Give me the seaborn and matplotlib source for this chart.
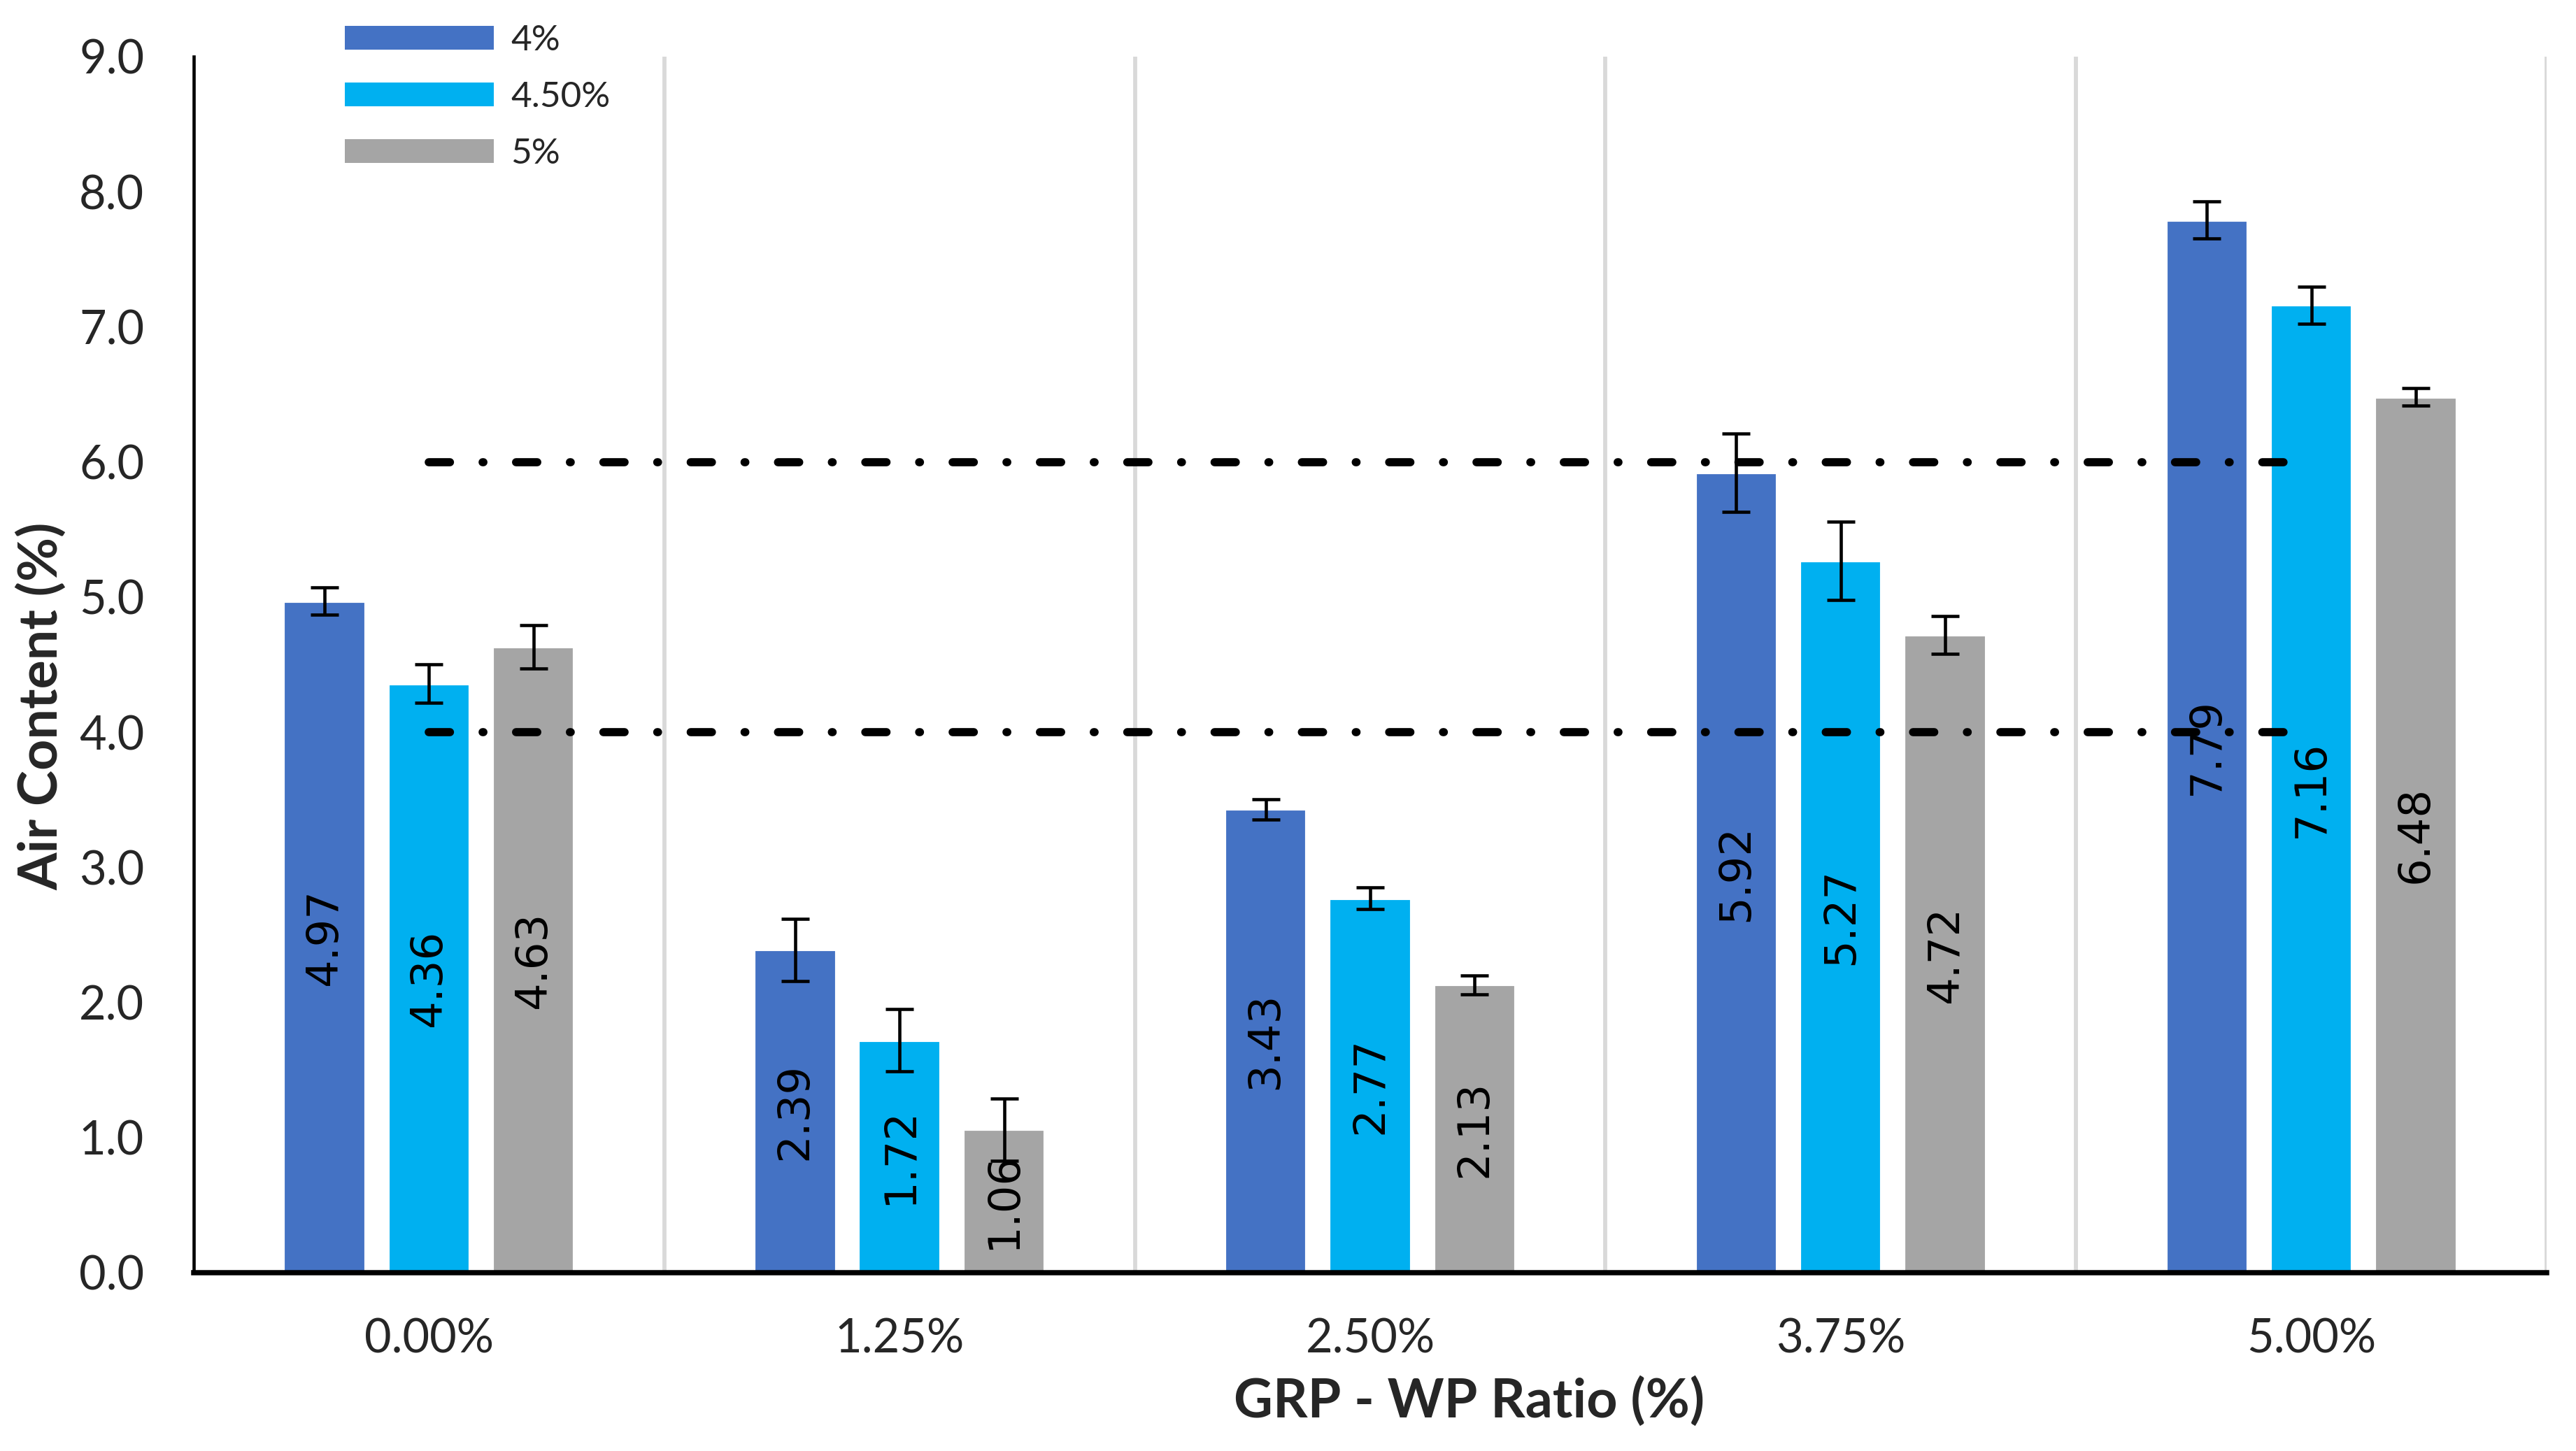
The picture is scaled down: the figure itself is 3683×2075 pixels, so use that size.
import numpy as np
import pandas as pd
import matplotlib
matplotlib.use("Agg")
import matplotlib.pyplot as plt
from matplotlib.patches import Patch
import seaborn as sns

# data
ratios = ["0.00%", "1.25%", "2.50%", "3.75%", "5.00%"]
cement = ["4%", "4.50%", "5%"]
air_4 = [4.97, 2.39, 3.43, 5.92, 7.79]
air_45 = [4.36, 1.72, 2.77, 5.27, 7.16]
air_5 = [4.63, 1.06, 2.13, 4.72, 6.48]
err_4 = [0.10, 0.23, 0.076, 0.29, 0.136]
err_45 = [0.14, 0.23, 0.08, 0.29, 0.137]
err_5 = [0.16, 0.23, 0.07, 0.14, 0.065]
limit_levels = [6.0, 4.0]
colors = ["#4472C4", "#00B0F0", "#A5A5A5"]

series = [air_4, air_45, air_5]
errors = [err_4, err_45, err_5]

rows = []
for c, vals in zip(cement, series):
    for r, v in zip(ratios, vals):
        rows.append([r, c, v])
df = pd.DataFrame(rows, columns=["ratio", "cement", "air"])

sns.set_style("white")
plt.rcParams["font.family"] = ["Lato", "DejaVu Sans"]

fig = plt.figure(figsize=(3683 / 300, 2075 / 300), dpi=300)
ax = fig.add_axes([0.0752, 0.1229, 0.9134, 0.8381])

sns.barplot(data=df, x="ratio", y="air", hue="cement", order=ratios,
            hue_order=cement, palette=colors, width=0.666, gap=0.214,
            errorbar=None, saturation=1, legend=False, ax=ax, zorder=2)

# value labels in the middle of the bars + error bars
for cont, vals, errs in zip(ax.containers, series, errors):
    ax.bar_label(cont, labels=[f"{v:.2f}" for v in vals], label_type="center",
                 rotation=90, fontsize=15, family="DejaVu Sans", color="black",
                 zorder=4)
    xs = [p.get_x() + p.get_width() / 2 for p in cont.patches]
    ax.errorbar(xs, vals, yerr=errs, fmt="none", ecolor="black",
                elinewidth=1.1, capsize=4.8, capthick=1.1, zorder=5)

# dash-dot limit lines
for lvl in limit_levels:
    ax.plot([0.0, 3.95], [lvl, lvl], color="black", lw=2.8,
            dashes=(2.6, 4.0, 0.1, 4.0), dash_capstyle="round", zorder=6)

ax.set_xlim(-0.5, 4.5)
ax.set_ylim(0, 9)
ax.set_yticks(np.arange(0, 9.1, 1.0))
ax.set_yticklabels([f"{t:.1f}" for t in np.arange(0, 9.1, 1.0)])
ax.set_xticks(range(len(ratios)))
ax.set_xticklabels(ratios)

# vertical separators between groups
ax.set_xticks(np.arange(0.5, 4.6, 1.0), minor=True)
ax.grid(False)
ax.grid(True, axis="x", which="minor", color="#D9D9D9", lw=1.4, zorder=0)
ax.set_axisbelow(True)

ax.tick_params(axis="y", length=0, pad=17, labelsize=16)
ax.tick_params(axis="x", which="both", length=0, pad=15.5, labelsize=16)

for s in ["top", "right"]:
    ax.spines[s].set_visible(False)
ax.spines["left"].set_color("black")
ax.spines["left"].set_linewidth(1.1)
ax.spines["bottom"].set_color("black")
ax.spines["bottom"].set_linewidth(1.8)

ax.set_ylabel("Air Content (%)", fontsize=18.5, fontweight="bold")
ax.yaxis.set_label_coords(-0.054, 0.466)
ax.set_xlabel("GRP - WP Ratio (%)", fontsize=18.5, fontweight="bold")
ax.xaxis.set_label_coords(0.542, -0.085)

handles = [Patch(facecolor=c, edgecolor="none") for c in colors]
fig.legend(handles, cement, loc="upper left", bbox_to_anchor=(0.1339, 0.983),
           frameon=False, fontsize=12.3, handlelength=4.15, handleheight=0.65,
           handletextpad=0.47, labelspacing=0.68, borderpad=0, borderaxespad=0)

fig.savefig("out.png", dpi=300)
